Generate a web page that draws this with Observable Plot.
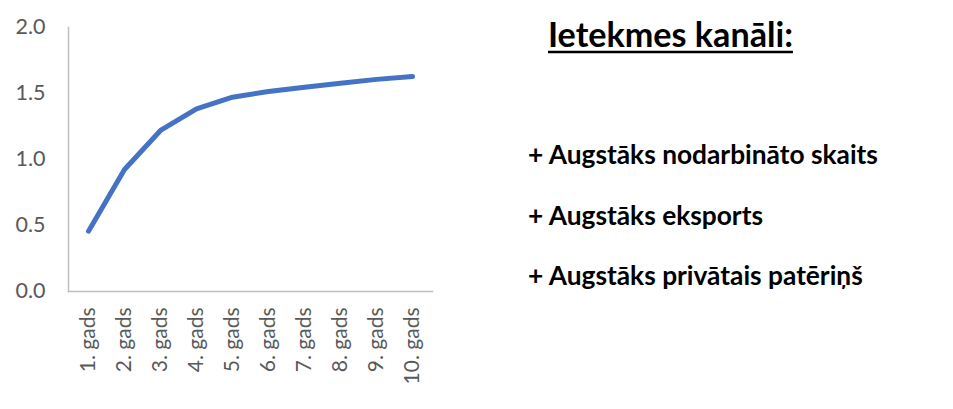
<!DOCTYPE html>
<html>
<head>
<meta charset="utf-8">
<script src="https://cdn.jsdelivr.net/npm/d3@7"></script>
<script src="https://cdn.jsdelivr.net/npm/@observablehq/plot@0.6"></script>
<style>
  html, body { margin: 0; padding: 0; background: #fff; }
  #wrap { position: relative; width: 953px; height: 409px; overflow: hidden; }
  #wrap svg { position: absolute; left: 0; top: 0; }
  .t { font-family: Lato, "Open Sans", sans-serif; font-weight: 700; fill: #000; }
</style>
</head>
<body>
<div id="wrap"></div>
<script>
const categories = ["1. gads","2. gads","3. gads","4. gads","5. gads","6. gads","7. gads","8. gads","9. gads","10. gads"];
const values = [0.457, 0.924, 1.22, 1.384, 1.472, 1.515, 1.548, 1.578, 1.607, 1.629];
const yTicks = [0, 0.5, 1.0, 1.5, 2.0];
const title = "Ietekmes kanāli:";
const items = ["+ Augstāks nodarbināto skaits", "+ Augstāks eksports", "+ Augstāks privātais patēriņš"];

const data = categories.map((c, i) => ({cat: c, v: values[i]}));

const chart = Plot.plot({
  width: 953,
  height: 409,
  marginLeft: 68,
  marginRight: 521,
  marginTop: 27,
  marginBottom: 118,
  style: {fontFamily: "Lato, 'Open Sans', sans-serif", background: "#fff"},
  x: {type: "point", domain: categories, padding: 0.5},
  y: {domain: [0, 2]},
  marks: [
    Plot.frame({anchor: "left", stroke: "#bfbfbf", strokeWidth: 1.5}),
    Plot.frame({anchor: "bottom", stroke: "#bfbfbf", strokeWidth: 1.5}),
    Plot.axisY({ticks: yTicks, tickFormat: d3.format(".1f"), tickSize: 0, tickPadding: 23, fontSize: 21.5, fill: "#595959", label: null}),
    Plot.axisX({tickRotate: -90, tickSize: 0, tickPadding: 16, fontSize: 21, fill: "#595959", label: null}),
    Plot.line(data, {x: "cat", y: "v", stroke: "#4472c4", strokeWidth: 5, strokeLinecap: "round", strokeLinejoin: "round"})
  ]
});
document.getElementById("wrap").appendChild(chart);

// Right-hand text block
const ns = "http://www.w3.org/2000/svg";
const svg = document.createElementNS(ns, "svg");
svg.setAttribute("width", 953);
svg.setAttribute("height", 409);
document.getElementById("wrap").appendChild(svg);

function addText(str, x, y, size, targetW) {
  const t = document.createElementNS(ns, "text");
  t.setAttribute("class", "t");
  t.setAttribute("x", x);
  t.setAttribute("y", y);
  t.setAttribute("font-size", size);
  t.textContent = str;
  svg.appendChild(t);
  const w = t.getComputedTextLength();
  if (w > 0 && targetW) t.setAttribute("font-size", size * targetW / w);
  return t;
}
const tt = addText(title, 548, 47, 34, 245);
const tw = tt.getComputedTextLength();
const ul = document.createElementNS(ns, "line");
ul.setAttribute("x1", 548); ul.setAttribute("x2", 548 + tw);
ul.setAttribute("y1", 52); ul.setAttribute("y2", 52);
ul.setAttribute("stroke", "#000"); ul.setAttribute("stroke-width", 2.5);
svg.appendChild(ul);

const baselines = [164, 225, 285];
const t1 = addText(items[0], 528, baselines[0], 28, 350);
const fs = t1.getAttribute("font-size");
addText(items[1], 528, baselines[1], fs, null);
addText(items[2], 528, baselines[2], fs, null);
</script>
</body>
</html>
